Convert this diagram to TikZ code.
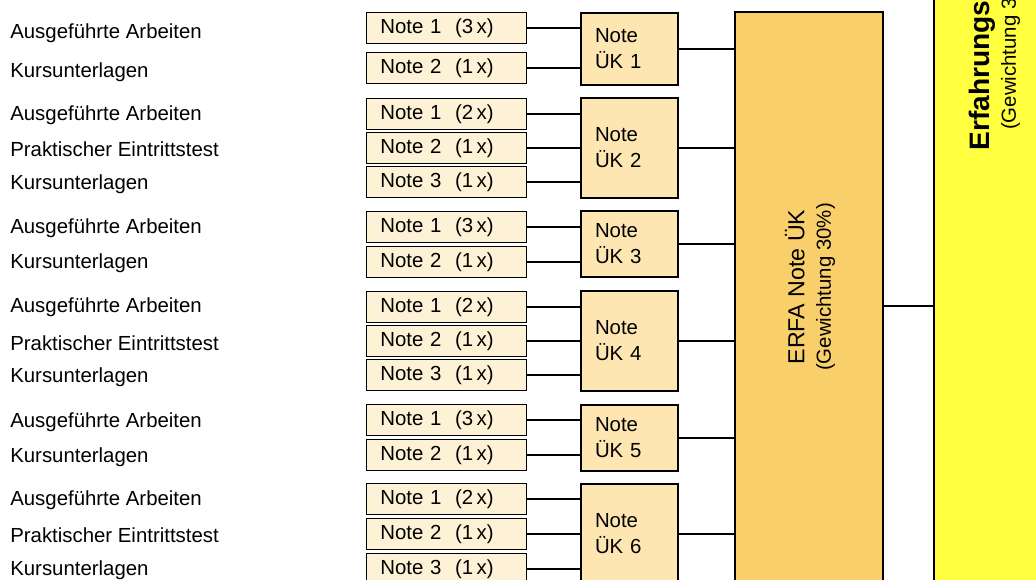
\documentclass[tikz,border=0pt]{standalone}
\usepackage{fontspec}
\setmainfont{Liberation Sans}
\usetikzlibrary{positioning,calc}
\definecolor{notefill}{HTML}{FEF2D6}
\definecolor{ukfill}{HTML}{FDE6B2}
\definecolor{erfafill}{HTML}{F9CF6B}
\definecolor{erfayellow}{HTML}{FFFF40}
\tikzset{
  rowlabel/.style={anchor=west,inner sep=0pt,font=\fontsize{14.5}{17}\selectfont},
  notebox/.style={draw,line width=0.6pt,fill=notefill,anchor=west,align=left,
    text width=3.3cm,inner xsep=0.36cm,inner ysep=0pt,minimum height=0.79cm,
    font=\fontsize{14.5}{17}\selectfont},
  ukbox/.style={draw,line width=1.4pt,fill=ukfill,align=left,text width=1.725cm,
    inner xsep=0.35cm,font=\fontsize{14.5}{18.5}\selectfont},
  bigbox/.style={draw,line width=1.4pt,inner sep=0pt},
  link/.style={line width=1.4pt}
}

\begin{document}
\begin{tikzpicture}[x=0.025cm,y=-0.025cm]
  \useasboundingbox (0,0) rectangle (1036,579);
  \clip (0,0) rectangle (1036,579);

  % grosse Boxen rechts
  \node[bigbox,fill=erfayellow,line width=1.6pt,minimum width=6.65cm,minimum height=20cm]
    (erfahrung) at (1067,300) {};
  \node[rotate=90,align=center,inner sep=0pt,font=\fontsize{14.5}{19}\selectfont]
    (erfahrungtext) at (994.5,46)
    {{\bfseries\fontsize{20}{22}\selectfont Erfahrungsnote}\\
     {\fontsize{14.5}{17}\selectfont (Gewichtung 30\%)}};

  \node[bigbox,fill=erfafill,minimum width=3.7cm,minimum height=14.7cm]
    (erfa) at (809,306) {};
  \node[rotate=90,align=center,inner sep=0pt,font=\fontsize{14.5}{19}\selectfont]
    (erfatext) at (810,287)
    {{\fontsize{16.5}{19}\selectfont ERFA Note ÜK}\\
     {\fontsize{14.5}{17}\selectfont (Gewichtung 30\%)}};
  \draw[link] (erfa.east) -- (erfahrung.west |- erfa.east);

  % Noten der Ueberbetrieblichen Kurse
  \node[ukbox,minimum height=1.81cm] (uk1) at (629.5,49) {Note\\ÜK 1};
  \node[ukbox,minimum height=2.515cm] (uk2) at (629.5,148) {Note\\ÜK 2};
  \node[ukbox,minimum height=1.67cm] (uk3) at (629.5,244) {Note\\ÜK 3};
  \node[ukbox,minimum height=2.5cm] (uk4) at (629.5,341) {Note\\ÜK 4};
  \node[ukbox,minimum height=1.67cm] (uk5) at (629.5,438) {Note\\ÜK 5};
  \node[ukbox,minimum height=2.515cm] (uk6) at (629.5,534) {Note\\ÜK 6};
  \foreach \g in {1,...,6}{\draw[link] (uk\g.east) -- (erfa.west |- uk\g.east);}

  % Teilnoten
  \foreach \g/\i/\yb/\yl/\lab/\note in {
      1/1/28/33.5/{Ausgeführte Arbeiten}/{Note 1~~(3\,x)},
      1/2/68/72/{Kursunterlagen}/{Note 2~~(1\,x)},
      2/1/114/115/{Ausgeführte Arbeiten}/{Note 1~~(2\,x)},
      2/2/148/149.5/{Praktischer Eintrittstest}/{Note 2~~(1\,x)},
      2/3/182/184/{Kursunterlagen}/{Note 3~~(1\,x)},
      3/1/227/228.5/{Ausgeführte Arbeiten}/{Note 1~~(3\,x)},
      3/2/262/263.5/{Kursunterlagen}/{Note 2~~(1\,x)},
      4/1/307/307.5/{Ausgeführte Arbeiten}/{Note 1~~(2\,x)},
      4/2/341/343/{Praktischer Eintrittstest}/{Note 2~~(1\,x)},
      4/3/375/377.5/{Kursunterlagen}/{Note 3~~(1\,x)},
      5/1/420/422/{Ausgeführte Arbeiten}/{Note 1~~(3\,x)},
      5/2/455/457/{Kursunterlagen}/{Note 2~~(1\,x)},
      6/1/499/500/{Ausgeführte Arbeiten}/{Note 1~~(2\,x)},
      6/2/534/535/{Praktischer Eintrittstest}/{Note 2~~(1\,x)},
      6/3/569/570/{Kursunterlagen}/{Note 3~~(1\,x)}}{
    \node[rowlabel] (l\g\i) at (10,\yl) {\lab};
    \node[notebox] (n\g\i) at (365.5,\yb) {\note};
    \draw[link] (n\g\i.east) -- (uk\g.west |- n\g\i.east);
  }
\end{tikzpicture}
\end{document}
